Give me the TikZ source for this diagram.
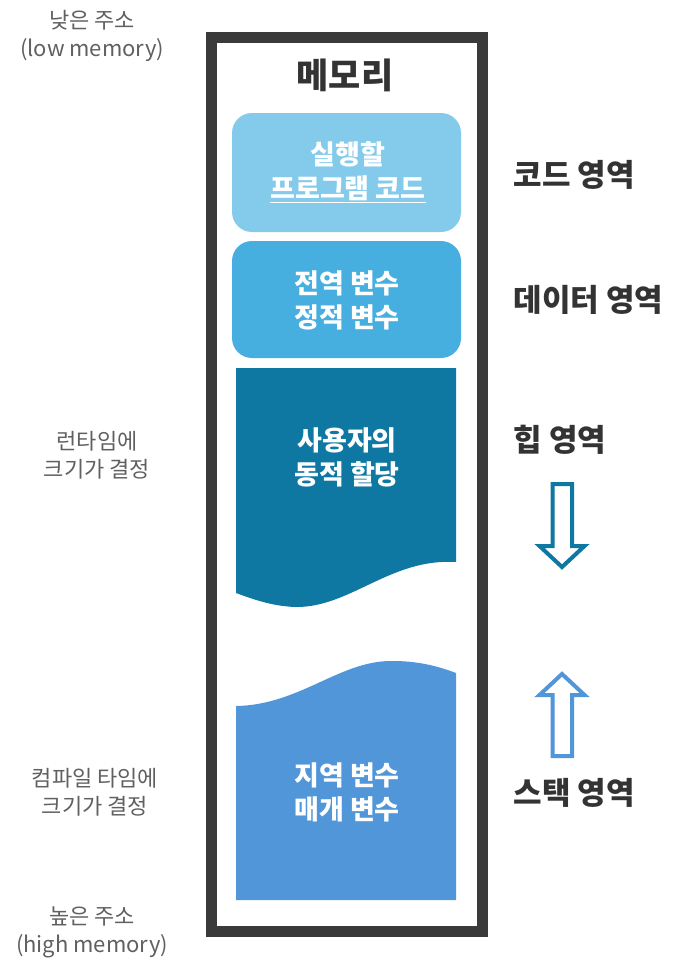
\documentclass[tikz,border=0pt]{standalone}
\usepackage{fontspec}
\setmainfont{Noto Sans CJK KR}
\definecolor{framec}{HTML}{3A3A3A}
\definecolor{codec}{HTML}{84CBEB}
\definecolor{datac}{HTML}{47AFE0}
\definecolor{heapc}{HTML}{0E77A2}
\definecolor{stackc}{HTML}{5096D8}
\definecolor{labc}{HTML}{333333}
\definecolor{sidec}{HTML}{606060}
\begin{document}
\begin{tikzpicture}[x=1pt,y=-1pt,
  seg/.style={rounded corners=20pt},
  boxtext/.style={text=white,font=\bfseries\fontsize{27}{34}\selectfont,align=center},
  rlabel/.style={anchor=west,text=labc,font=\bfseries\fontsize{31}{34}\selectfont},
  slabel/.style={text=sidec,align=center,font=\fontsize{22}{28}\selectfont},
  arrowbox/.style={line width=4pt,fill=white,line join=miter}]
\useasboundingbox (0,0) rectangle (687,974);
% frame
\draw[framec,line width=11pt] (211.5,37.5) rectangle (482.5,931.5);
\node[text=labc,font=\bfseries\fontsize{35}{38}\selectfont] (title) at (345,75) {메모리};
% code
\fill[codec,seg] (232,113) rectangle (461,232);
\node[boxtext] (code) at (348,172) {실행할\\\underline{프로그램 코드}};
% data
\fill[datac,seg] (232,241) rectangle (461,358);
\node[boxtext] (data) at (347,300) {전역 변수\\정적 변수};
% heap
\fill[heapc] (236,368) -- (456,368) -- (456,562)
  .. controls (390,558) and (350,608) .. (295,607)
  .. controls (270,606) and (250,598) .. (236,593) -- cycle;
\node[boxtext] (heap) at (347,457) {사용자의\\동적 할당};
% stack
\fill[stackc] (236,900) -- (236,706)
  .. controls (300,705) and (340,660) .. (393,661)
  .. controls (420,661) and (440,667) .. (456,673) -- (456,900) -- cycle;
\node[boxtext] (stack) at (347,792) {지역 변수\\매개 변수};
% right labels
\node[rlabel] (lcode) at (510,175) {코드 영역};
\node[rlabel] (ldata) at (510,300) {데이터 영역};
\node[rlabel] (lheap) at (510,440) {힙 영역};
\node[rlabel] (lstack) at (510,793) {스택 영역};
% arrows
\draw[arrowbox,draw=heapc] (552.5,484) -- (572,484) -- (572,546) -- (584.5,546) -- (562,567) -- (539.5,546) -- (552.5,546) -- cycle;
\draw[arrowbox,draw=stackc] (552.5,756) -- (572,756) -- (572,695) -- (584.5,695) -- (562,674) -- (539.5,695) -- (552.5,695) -- cycle;
% side labels
\node[slabel] (low) at (92,36) {낮은 주소\\(low memory)};
\node[slabel] (run) at (97,455) {런타임에\\크기가 결정};
\node[slabel] (comp) at (95,792) {컴파일 타임에\\크기가 결정};
\node[slabel] (high) at (92,932) {높은 주소\\(high memory)};
\end{tikzpicture}
\end{document}
